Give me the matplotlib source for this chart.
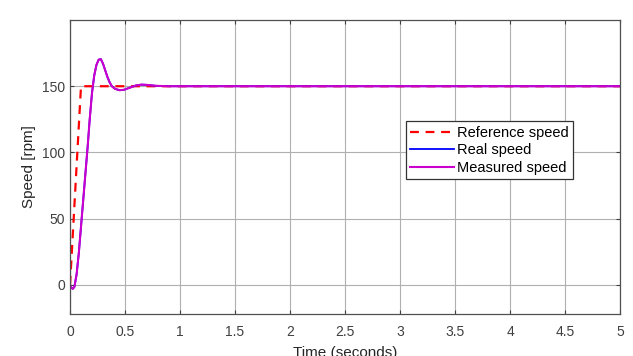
import matplotlib.pyplot as plt
import numpy as np

plt.rcParams['font.family'] = ['Liberation Sans', 'DejaVu Sans']

# reference speed (ramp then constant)
t_ref = [0, 0.1, 5]
v_ref = [0, 150, 150]

# real / measured speed
t_meas = [0, 0.01, 0.025, 0.04, 0.06, 0.08, 0.10, 0.12, 0.14, 0.16, 0.18,
          0.20, 0.22, 0.24, 0.26, 0.28, 0.30, 0.32, 0.34, 0.36, 0.38, 0.41,
          0.45, 0.49, 0.54, 0.60, 0.65, 0.70, 0.78, 0.9, 5]
v_real = [0, -2, -3, -1.5, 8, 24, 44, 64, 84, 104, 126,
          145, 158, 166, 170, 170.5, 167, 162, 157, 153, 150, 148,
          147, 147.3, 148.8, 150.6, 151.2, 151, 150.3, 150, 150]
v_meas = list(v_real)

xticks = [0, 0.5, 1, 1.5, 2, 2.5, 3, 3.5, 4, 4.5, 5]
xtick_labels = ['0', '0.5', '1', '1.5', '2', '2.5', '3', '3.5', '4', '4.5', '5']
yticks = [0, 50, 100, 150]

fig = plt.figure(figsize=(6.33, 3.56), dpi=100)
ax = fig.add_axes([0.1106, 0.118, 0.8689, 0.8258])

ax.plot(t_ref, v_ref, color='red', linestyle=(0, (4, 3)), linewidth=1.6, label='Reference speed')
ax.plot(t_meas, v_real, color='blue', linewidth=1.3, label='Real speed')
ax.plot(t_meas, v_meas, color='#cc00cc', linewidth=1.5, label='Measured speed')

ax.set_xlim(0, 5)
ax.set_ylim(-22, 200)
ax.set_xticks(xticks)
ax.set_xticklabels(xtick_labels)
ax.set_yticks(yticks)
ax.grid(True, color='#b0b0b0', linewidth=0.8)
ax.tick_params(direction='in', top=True, right=True, labelsize=10,
               colors='#404040', length=3)
ax.tick_params(axis='x', pad=8)
for s in ax.spines.values():
    s.set_color('#505050')
    s.set_linewidth(0.9)

ax.set_xlabel('Time (seconds)', fontsize=11, color='#262626', labelpad=5)
ax.set_ylabel('Speed [rpm]', fontsize=11, color='#262626')

leg = ax.legend(loc='upper left', bbox_to_anchor=(0.611, 0.655), fontsize=10.5,
                frameon=True, fancybox=False, handlelength=3.0,
                borderpad=0.3, labelspacing=0.25, handletextpad=0.2,
                borderaxespad=0)
leg.get_frame().set_edgecolor('#333333')
leg.get_frame().set_linewidth(0.9)
leg.get_frame().set_alpha(1)

fig.savefig('out.png', dpi=100)
